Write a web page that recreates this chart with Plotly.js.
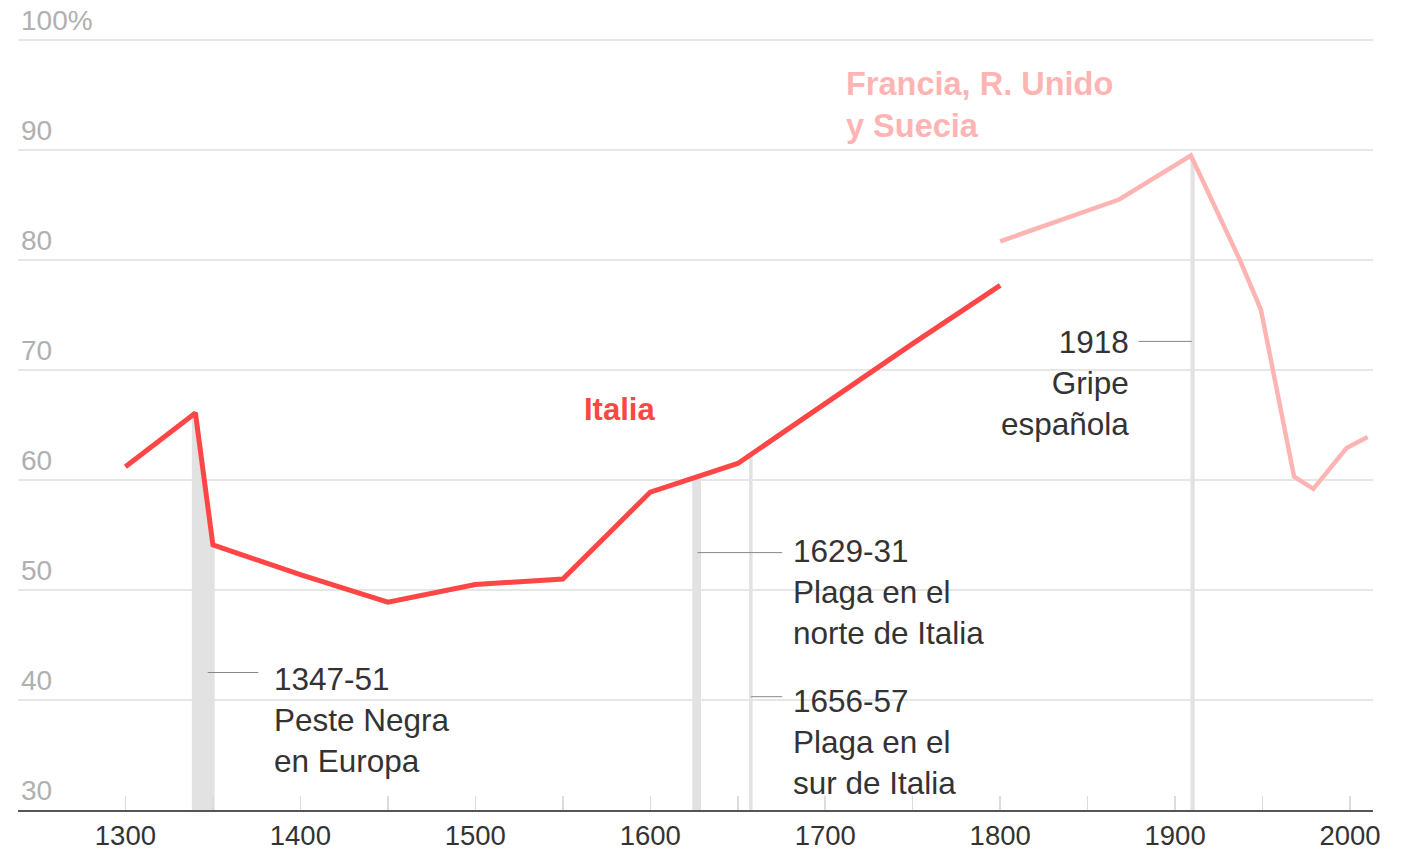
<!DOCTYPE html>
<html>
<head>
<meta charset="utf-8">
<script src="https://cdn.plot.ly/plotly-3.0.1.min.js"></script>
<style>html,body{margin:0;padding:0;background:#fff;}#chart{width:1409px;height:850px;}</style>
</head>
<body>
<div id="chart"></div>
<script>
// ---- data ----
const italiaYears  = [1300, 1340, 1350, 1400, 1450, 1500, 1550, 1600, 1650, 1700, 1750, 1800];
const italiaValues = [61.2, 66.1, 54.1, 51.4, 48.9, 50.5, 51.0, 58.9, 61.5, 67.0, 72.4, 77.7];

const europaYears  = [1800, 1868, 1909, 1937, 1949, 1968, 1979, 1998, 2010];
const europaValues = [81.7, 85.5, 89.5, 80.0, 75.5, 60.3, 59.2, 62.9, 63.9];

const eventNames  = ["1347-51", "1629-31", "1656-57", "1918"];
const eventTexts  = ["Peste Negra<br>en Europa", "Plaga en el<br>norte de Italia", "Plaga en el<br>sur de Italia", "Gripe<br>española"];
const eventBandStart = [1338, 1624, 1656.5, 1908.8];
const eventBandEnd   = [1351, 1629, 1658.5, 1911.2];
const eventSeries    = ["italia", "italia", "italia", "europa"];

const yTickVals = [30, 40, 50, 60, 70, 80, 90, 100];
const yTickText = ["30", "40", "50", "60", "70", "80", "90", "100%"];
const xTickVals = [1300, 1350, 1400, 1450, 1500, 1550, 1600, 1650, 1700, 1750, 1800, 1850, 1900, 1950, 2000];
const xTickText = ["1300", "", "1400", "", "1500", "", "1600", "", "1700", "", "1800", "", "1900", "", "2000"];

// ---- label placement (layout only) ----
const labelPos = [
  {x: 1384, y: 38.2, anchor: "left",  lx0: 1347, lx1: 1376, ly: 42.5},
  {x: 1680.5, y: 49.8, anchor: "left", lx0: 1627, lx1: 1675.4, ly: 53.4},
  {x: 1680.5, y: 36.2, anchor: "left", lx0: 1657.5, lx1: 1675.4, ly: 40.3},
  {x: 1874.5, y: 68.8, anchor: "right", lx0: 1879, lx1: 1909.5, ly: 72.6}
];

const RED = "rgb(255,70,70)";
const PINK = "rgb(255,180,180)";
const FONT = "Liberation Sans, Arial, Helvetica, sans-serif";

function interp(xs, ys, x) {
  for (let i = 0; i < xs.length - 1; i++) {
    if (x >= xs[i] && x <= xs[i + 1]) {
      const t = (x - xs[i]) / (xs[i + 1] - xs[i]);
      return ys[i] + t * (ys[i + 1] - ys[i]);
    }
  }
  return x < xs[0] ? ys[0] : ys[ys.length - 1];
}

const traces = [];
// bands: area under the series between event edges
eventNames.forEach((n, i) => {
  const xs = eventSeries[i] === "italia" ? italiaYears : europaYears;
  const ys = eventSeries[i] === "italia" ? italiaValues : europaValues;
  const a = eventBandStart[i], b = eventBandEnd[i];
  const px = [a], py = [interp(xs, ys, a)];
  xs.forEach((x, k) => { if (x > a && x < b) { px.push(x); py.push(ys[k]); } });
  px.push(b); py.push(interp(xs, ys, b));
  px.push(b, a); py.push(30, 30);
  traces.push({x: px, y: py, type: "scatter", mode: "lines", fill: "toself",
    fillcolor: "#e2e2e2", line: {width: 0}, hoverinfo: "skip", showlegend: false});
});

traces.push({x: europaYears, y: europaValues, type: "scatter", mode: "lines",
  line: {color: PINK, width: 4.5}, hoverinfo: "skip", showlegend: false});
traces.push({x: italiaYears, y: italiaValues, type: "scatter", mode: "lines",
  line: {color: RED, width: 5}, hoverinfo: "skip", showlegend: false});

const shapes = labelPos.map(p => ({type: "line", xref: "x", yref: "y",
  x0: p.lx0, x1: p.lx1, y0: p.ly, y1: p.ly, line: {color: "#888", width: 1}}));

const annotations = eventNames.map((n, i) => ({
  x: labelPos[i].x, y: labelPos[i].y, xref: "x", yref: "y",
  text: n + "<br>" + eventTexts[i], showarrow: false,
  xanchor: labelPos[i].anchor, yanchor: "middle", align: labelPos[i].anchor,
  font: {family: FONT, size: 31.5, color: "#333"}
}));
annotations.push({x: 1582.3, y: 66.4, xref: "x", yref: "y", text: "<b>Italia</b>",
  showarrow: false, xanchor: "center", yanchor: "middle",
  font: {family: FONT, size: 31, color: RED}});
annotations.push({x: 1710.5, y: 94.1, xref: "x", yref: "y", text: "<b>Francia, R. Unido<br>y Suecia</b>",
  showarrow: false, xanchor: "left", yanchor: "middle", align: "left",
  font: {family: FONT, size: 32.5, color: PINK}});

const layout = {
  width: 1409, height: 850,
  margin: {l: 18, r: 36, t: 7, b: 40},
  paper_bgcolor: "#fff", plot_bgcolor: "#fff",
  showlegend: false,
  xaxis: {range: [1238.6, 2013.1], tickvals: xTickVals, ticktext: xTickText,
    ticks: "inside", ticklen: 14, tickcolor: "#dcdcdc", tickwidth: 1.5,
    showgrid: false, zeroline: false, showline: true, linecolor: "#555", linewidth: 2,
    tickfont: {family: FONT, size: 27.5, color: "#333"}, fixedrange: true},
  yaxis: {range: [30, 103], tickvals: yTickVals, ticktext: yTickText,
    ticklabelposition: "inside top", ticklabeloverflow: "allow", ticks: "",
    showgrid: true, gridcolor: "#e6e6e6", gridwidth: 1.5,
    zeroline: false, showline: false,
    tickfont: {family: FONT, size: 28, color: "#b0b0b0"}, fixedrange: true},
  shapes: shapes,
  annotations: annotations
};

Plotly.newPlot("chart", traces, layout, {displayModeBar: false, staticPlot: true});
</script>
</body>
</html>
